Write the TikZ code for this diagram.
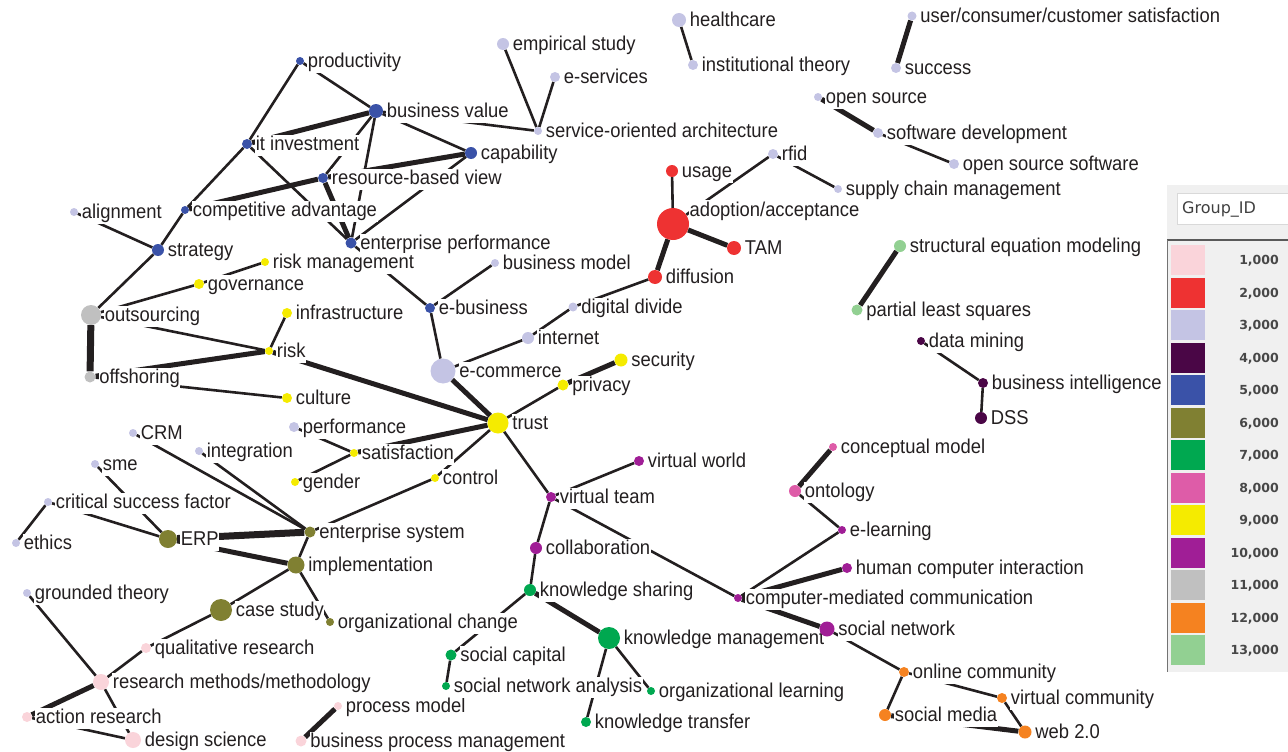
\documentclass[tikz,border=0pt]{standalone}
\usepackage{fontspec}
\newfontfamily\labfont{Liberation Sans}[FakeStretch=0.92]
\newfontfamily\legfont{DejaVu Sans}
\usetikzlibrary{backgrounds}

\definecolor{g1}{RGB}{250,212,218}
\definecolor{g2}{RGB}{238,50,50}
\definecolor{g3}{RGB}{196,196,228}
\definecolor{g4}{RGB}{74,6,70}
\definecolor{g5}{RGB}{58,82,168}
\definecolor{g6}{RGB}{128,128,50}
\definecolor{g7}{RGB}{0,168,80}
\definecolor{g8}{RGB}{222,92,168}
\definecolor{g9}{RGB}{245,235,0}
\definecolor{g10}{RGB}{160,30,150}
\definecolor{g11}{RGB}{192,192,192}
\definecolor{g12}{RGB}{245,130,32}
\definecolor{g13}{RGB}{146,208,146}
\definecolor{ink}{RGB}{35,31,32}

\tikzset{
  dot/.style={circle, inner sep=0pt, minimum size=#1},
  lab/.style={font=\labfont\fontsize{20}{22}\selectfont, text=ink, fill=white, inner xsep=0.5pt, inner ysep=1pt,
    text height=15pt, text depth=4.5pt, yshift=-1.5pt},
  edge/.style={draw=ink, line width=2.6pt},
  heavy/.style={draw=ink, line width=5pt},
  heavier/.style={draw=ink, line width=7pt},
}

\begin{document}
\begin{tikzpicture}[x=1pt, y=-1pt, label distance=3pt]
\useasboundingbox (0,0) rectangle (1288,752);

% group 5
\node[dot=8, fill=g5, label={[lab]right:productivity}] (prod) at (300,61) {};
\node[dot=14, fill=g5, label={[lab]right:business value}] (bval) at (376,111) {};
\node[dot=10, fill=g5, label={[lab]right:it investment}] (itinv) at (247,144) {};
\node[dot=12, fill=g5, label={[lab]right:capability}] (capab) at (471,153) {};
\node[dot=10, fill=g5, label={[lab]right:resource-based view}] (rbv) at (323,178) {};
\node[dot=8, fill=g5, label={[lab]right:competitive advantage}] (compadv) at (185,210) {};
\node[dot=12, fill=g5, label={[lab]right:strategy}] (strat) at (158,250) {};
\node[dot=11, fill=g5, label={[lab]right:enterprise performance}] (entperf) at (351,243) {};
\node[dot=10, fill=g5, label={[lab]right:e-business}] (ebus) at (430,308) {};

% group 3
\node[dot=12, fill=g3, label={[lab]right:empirical study}] (empst) at (503,44) {};
\node[dot=10, fill=g3, label={[lab]right:e-services}] (eserv) at (555,77) {};
\node[dot=8, fill=g3, label={[lab]right:service-oriented architecture}] (soa) at (538,131) {};
\node[dot=14, fill=g3, label={[lab]right:healthcare}] (health) at (679,20) {};
\node[dot=10, fill=g3, label={[lab]right:institutional theory}] (inst) at (693,65) {};
\node[dot=9, fill=g3, label={[lab]right:user/consumer/customer satisfaction}] (ucs) at (912,16) {};
\node[dot=10, fill=g3, label={[lab]right:success}] (succ) at (896,68) {};
\node[dot=8, fill=g3, label={[lab]right:open source}] (opens) at (818,97) {};
\node[dot=10, fill=g3, label={[lab]right:software development}] (softdev) at (878,133) {};
\node[dot=10, fill=g3, label={[lab]right:open source software}] (oss) at (954,164) {};
\node[dot=10, fill=g3, label={[lab]right:rfid}] (rfid) at (773,154) {};
\node[dot=8, fill=g3, label={[lab]right:supply chain management}] (scm) at (838,189) {};
\node[dot=8, fill=g3, label={[lab]right:alignment}] (align) at (74,212) {};
\node[dot=8, fill=g3, label={[lab]right:business model}] (bmodel) at (495,263) {};
\node[dot=9, fill=g3, label={[lab]right:digital divide}] (ddiv) at (573,307) {};
\node[dot=12, fill=g3, label={[lab]right:internet}] (inet) at (528,338) {};
\node[dot=25, fill=g3, label={[lab]right:e-commerce}] (ecom) at (443,371) {};
\node[dot=10, fill=g3, label={[lab]right:performance}] (perf) at (294,427) {};
\node[dot=8, fill=g3, label={[lab]right:CRM}] (crm) at (133,433) {};
\node[dot=8, fill=g3, label={[lab]right:integration}] (integ) at (199,451) {};
\node[dot=8, fill=g3, label={[lab]right:sme}] (sme) at (95,464) {};
\node[dot=8, fill=g3, label={[lab]right:critical success factor}] (csf) at (48,502) {};
\node[dot=8, fill=g3, label={[lab]right:ethics}] (ethics) at (16,543) {};
\node[dot=8, fill=g3, label={[lab]right:grounded theory}] (grth) at (27,593) {};

% group 2
\node[dot=12, fill=g2, label={[lab]right:usage}] (usage) at (672,171) {};
\node[dot=32, fill=g2, label={[lab,label distance=0pt]12:adoption/acceptance}] (adopt) at (673,224) {};
\node[dot=14, fill=g2, label={[lab]right:TAM}] (tam) at (734,248) {};
\node[dot=14, fill=g2, label={[lab]right:diffusion}] (diff) at (655,277) {};

% group 9
\node[dot=8, fill=g9, label={[lab]right:risk management}] (riskm) at (265,262) {};
\node[dot=10, fill=g9, label={[lab]right:governance}] (gov) at (199,284) {};
\node[dot=10, fill=g9, label={[lab]right:infrastructure}] (infra) at (287,313) {};
\node[dot=8, fill=g9, label={[lab]right:risk}] (risk) at (269,351) {};
\node[dot=10, fill=g9, label={[lab]right:culture}] (cult) at (287,398) {};
\node[dot=13, fill=g9, label={[lab]right:security}] (secur) at (621,360) {};
\node[dot=11, fill=g9, label={[lab]right:privacy}] (priv) at (563,385) {};
\node[dot=21, fill=g9, label={[lab]right:trust}] (trust) at (498,423) {};
\node[dot=8, fill=g9, label={[lab]right:satisfaction}] (satis) at (354,453) {};
\node[dot=8, fill=g9, label={[lab]right:gender}] (gender) at (295,482) {};
\node[dot=8, fill=g9, label={[lab]right:control}] (contr) at (435,478) {};

% group 11
\node[dot=20, fill=g11, label={[lab]right:outsourcing}] (outs) at (91,315) {};
\node[dot=11, fill=g11, label={[lab]right:offshoring}] (offs) at (90,377) {};

% group 6
\node[dot=18, fill=g6, label={[lab]right:ERP}] (erp) at (168,539) {};
\node[dot=11, fill=g6, label={[lab]right:enterprise system}] (entsys) at (310,532) {};
\node[dot=17, fill=g6, label={[lab]right:implementation}] (impl) at (296,565) {};
\node[dot=22, fill=g6, label={[lab]right:case study}] (cases) at (221,610) {};
\node[dot=8, fill=g6, label={[lab]right:organizational change}] (orgch) at (330,622) {};

% group 1
\node[dot=10, fill=g1, label={[lab]right:qualitative research}] (qualr) at (146,648) {};
\node[dot=16, fill=g1, label={[lab]right:research methods/methodology}] (resm) at (101,682) {};
\node[dot=10, fill=g1, label={[lab]right:action research}] (actr) at (27,717) {};
\node[dot=16, fill=g1, label={[lab]right:design science}] (dsci) at (133,740) {};
\node[dot=8, fill=g1, label={[lab]right:process model}] (procm) at (338,706) {};
\node[dot=11, fill=g1, label={[lab]right:business process management}] (bpm) at (301,741) {};

% group 7
\node[dot=12, fill=g7, label={[lab]right:knowledge sharing}] (ksh) at (530,590) {};
\node[dot=22, fill=g7, label={[lab]right:knowledge management}] (kmg) at (609,638) {};
\node[dot=11, fill=g7, label={[lab]right:social capital}] (socc) at (451,655) {};
\node[dot=8, fill=g7, label={[lab]right:social network analysis}] (sna) at (446,686) {};
\node[dot=8, fill=g7, label={[lab]right:organizational learning}] (orgl) at (651,691) {};
\node[dot=10, fill=g7, label={[lab]right:knowledge transfer}] (ktr) at (586,722) {};

% group 13
\node[dot=12, fill=g13, label={[lab]right:structural equation modeling}] (sem) at (900,246) {};
\node[dot=11, fill=g13, label={[lab]right:partial least squares}] (pls) at (857,310) {};

% group 4
\node[dot=8, fill=g4, label={[lab]right:data mining}] (dmin) at (921,341) {};
\node[dot=10, fill=g4, label={[lab]right:business intelligence}] (bint) at (983,383) {};
\node[dot=12, fill=g4, label={[lab]right:DSS}] (dss) at (981,418) {};

% group 10
\node[dot=10, fill=g10, label={[lab]right:virtual world}] (vworld) at (639,461) {};
\node[dot=10, fill=g10, label={[lab]right:virtual team}] (vteam) at (551,497) {};
\node[dot=12, fill=g10, label={[lab]right:collaboration}] (collab) at (536,548) {};
\node[dot=8, fill=g10, label={[lab]right:computer-mediated communication}] (cmc) at (738,598) {};
\node[dot=10, fill=g10, label={[lab]right:human computer interaction}] (hci) at (847,568) {};
\node[dot=8, fill=g10, label={[lab]right:e-learning}] (elearn) at (842,530) {};
\node[dot=15, fill=g10, label={[lab]right:social network}] (socnet) at (827,629) {};

% group 8
\node[dot=8, fill=g8, label={[lab]right:conceptual model}] (concm) at (833,447) {};
\node[dot=12, fill=g8, label={[lab]right:ontology}] (onto) at (795,491) {};

% group 12
\node[dot=10, fill=g12, label={[lab]right:online community}] (onlc) at (904,672) {};
\node[dot=10, fill=g12, label={[lab]right:virtual community}] (vcom) at (1002,698) {};
\node[dot=12, fill=g12, label={[lab]right:social media}] (socm) at (885,715) {};
\node[dot=13, fill=g12, label={[lab]right:web 2.0}] (web) at (1025,732) {};

% links
\begin{scope}[on background layer]
\draw[edge] (prod) -- (bval);
\draw[edge] (prod) -- (itinv);
\draw[heavy] (itinv) -- (bval);
\draw[edge] (itinv) -- (compadv);
\draw[edge] (compadv) -- (strat);
\draw[edge] (strat) -- (outs);
\draw[edge] (align) -- (strat);
\draw[edge] (itinv) -- (entperf);
\draw[edge] (bval) -- (capab);
\draw[edge] (bval) -- (soa);
\draw[edge] (bval) -- (rbv);
\draw[edge] (bval) -- (entperf);
\draw[heavy] (capab) -- (rbv);
\draw[edge] (capab) -- (entperf);
\draw[heavy] (rbv) -- (compadv);
\draw[heavy] (rbv) -- (entperf);
\draw[edge] (entperf) -- (ebus);
\draw[edge] (ebus) -- (bmodel);
\draw[edge] (ebus) -- (ecom);
\draw[edge] (empst) -- (soa);
\draw[edge] (eserv) -- (soa);
\draw[edge] (health) -- (inst);
\draw[heavy] (ucs) -- (succ);
\draw[heavy] (opens) -- (softdev);
\draw[edge] (softdev) -- (oss);
\draw[edge] (rfid) -- (adopt);
\draw[edge] (rfid) -- (scm);
\draw[edge] (usage) -- (adopt);
\draw[heavy] (adopt) -- (tam);
\draw[heavy] (adopt) -- (diff);
\draw[edge] (diff) -- (ddiv);
\draw[edge] (ddiv) -- (inet);
\draw[edge] (inet) -- (ecom);
\draw[heavy] (ecom) -- (trust);
\draw[edge] (riskm) -- (gov);
\draw[edge] (gov) -- (outs);
\draw[heavier] (outs) -- (offs);
\draw[edge] (outs) -- (risk);
\draw[heavy] (offs) -- (risk);
\draw[edge] (offs) -- (cult);
\draw[edge] (infra) -- (risk);
\draw[heavy] (risk) -- (trust);
\draw[edge] (trust) -- (priv);
\draw[heavy] (priv) -- (secur);
\draw[heavy] (trust) -- (satis);
\draw[edge] (perf) -- (satis);
\draw[edge] (satis) -- (gender);
\draw[edge] (trust) -- (contr);
\draw[edge] (contr) -- (entsys);
\draw[edge] (trust) -- (vteam);
\draw[edge] (crm) -- (entsys);
\draw[edge] (integ) -- (entsys);
\draw[edge] (sme) -- (erp);
\draw[edge] (csf) -- (erp);
\draw[edge] (csf) -- (ethics);
\draw[heavier] (erp) -- (entsys);
\draw[heavy] (erp) -- (impl);
\draw[edge] (entsys) -- (impl);
\draw[edge] (impl) -- (cases);
\draw[edge] (impl) -- (orgch);
\draw[edge] (cases) -- (qualr);
\draw[edge] (qualr) -- (resm);
\draw[edge] (grth) -- (resm);
\draw[heavy] (resm) -- (actr);
\draw[edge] (resm) -- (dsci);
\draw[edge] (actr) -- (dsci);
\draw[heavy] (procm) -- (bpm);
\draw[edge] (vteam) -- (vworld);
\draw[edge] (vteam) -- (collab);
\draw[edge] (vteam) -- (cmc);
\draw[edge] (collab) -- (ksh);
\draw[heavy] (ksh) -- (kmg);
\draw[edge] (ksh) -- (socc);
\draw[edge] (socc) -- (sna);
\draw[edge] (kmg) -- (orgl);
\draw[edge] (kmg) -- (ktr);
\draw[edge] (cmc) -- (elearn);
\draw[heavy] (cmc) -- (hci);
\draw[heavy] (cmc) -- (socnet);
\draw[edge] (elearn) -- (onto);
\draw[heavy] (onto) -- (concm);
\draw[edge] (socnet) -- (onlc);
\draw[edge] (onlc) -- (socm);
\draw[edge] (onlc) -- (vcom);
\draw[edge] (vcom) -- (web);
\draw[heavy] (socm) -- (web);
\draw[heavy] (sem) -- (pls);
\draw[edge] (dmin) -- (bint);
\draw[edge] (bint) -- (dss);
\end{scope}

% legend
\fill[black!6] (1167,185) rectangle (1288,672);
\filldraw[fill=white, draw=black!15] (1177,193) rectangle (1290,224);
\node[anchor=west, inner sep=0pt, font=\legfont\fontsize{16}{18}\selectfont, text=black!75] (gid) at (1182,209) {Group\_ID};
\draw[black!65, line width=1.5pt] (1167,240) -- (1290,240);
\draw[black!55, line width=1pt] (1167,240) -- (1167,672);
\foreach \i in {1,...,13} {
  \fill[g\i] (1171,{245+(\i-1)*32.5}) rectangle (1205,{275+(\i-1)*32.5});
  \node[anchor=east, inner sep=0pt, font=\legfont\bfseries\fontsize{12.5}{14}\selectfont, text=black!72] at (1279,{261+(\i-1)*32.5}) {\i,000};
}

\end{tikzpicture}
\end{document}
